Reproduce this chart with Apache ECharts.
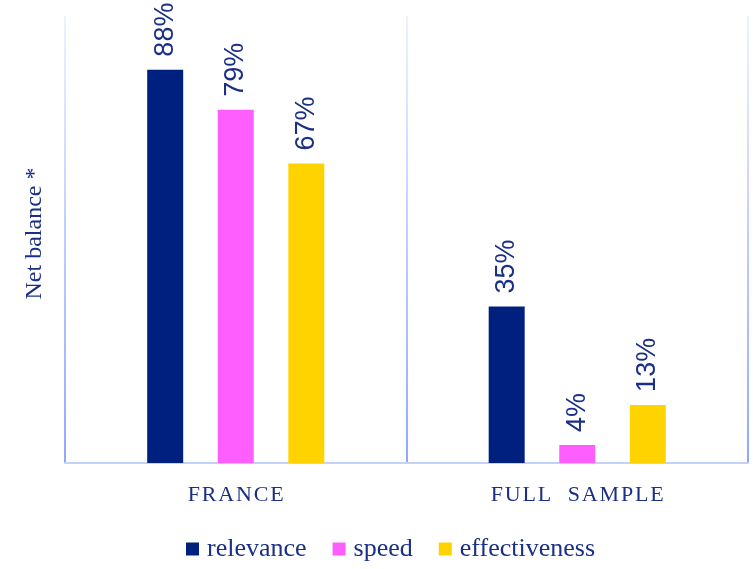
<!DOCTYPE html>
<html>
<head>
<meta charset="utf-8">
<script src="https://cdn.jsdelivr.net/npm/echarts@6/dist/echarts.min.js"></script>
<style>
  html, body { margin: 0; padding: 0; background: #fff; }
  #chart { width: 755px; height: 569px; }
</style>
</head>
<body>
<div id="chart"></div>
<script>
// data
const categories = ['FRANCE', 'FULL  SAMPLE'];
const seriesNames = ['relevance', 'speed', 'effectiveness'];
const relevance = [88, 35];
const speed = [79, 4];
const effectiveness = [67, 13];
const colors = ['#00207f', '#ff5eff', '#ffd300'];

const textColor = '#1a2f86';
const serif = '"Liberation Serif", "DejaVu Serif", serif';

// spread the letters a bit, like the original's tracked caps
const spaced = (s) => s.split('').join('\u200a');

const guideLine = new echarts.graphic.LinearGradient(0, 0, 0, 1, [
  { offset: 0, color: '#eef2ff' },
  { offset: 1, color: '#8ea8ff' }
]);

const makeSeries = (name, data, color) => ({
  name,
  type: 'bar',
  data,
  barWidth: 36,
  barGap: '96%',
  itemStyle: { color },
  label: {
    show: true,
    position: 'top',
    distance: 13,
    rotate: 90,
    align: 'left',
    verticalAlign: 'middle',
    formatter: '{c}%',
    color: textColor,
    fontSize: 27,
    fontFamily: '"Liberation Sans", Arial, sans-serif'
  }
});

const chart = echarts.init(document.getElementById('chart'));
chart.setOption({
  animation: false,
  textStyle: { fontFamily: serif },
  grid: { left: 65, right: 7, top: 16, bottom: 106, containLabel: false },
  legend: {
    data: seriesNames,
    bottom: 7,
    left: 186,
    padding: 0,
    itemWidth: 13,
    itemHeight: 13,
    itemGap: 26,
    icon: 'rect',
    textStyle: { color: textColor, fontSize: 26, fontFamily: serif, padding: [0, 0, 0, 3] }
  },
  xAxis: {
    type: 'category',
    data: categories,
    axisLine: { show: true, lineStyle: { color: '#c3d1ff', width: 2 } },
    axisTick: { show: false },
    splitLine: { show: true, lineStyle: { color: guideLine, width: 2 } },
    axisLabel: {
      margin: 21,
      color: textColor,
      fontSize: 22,
      fontFamily: serif,
      formatter: spaced
    }
  },
  yAxis: {
    type: 'value',
    min: 0,
    max: 100,
    name: 'Net balance *',
    nameLocation: 'middle',
    nameGap: 18,
    nameTextStyle: { color: textColor, fontSize: 24, fontFamily: serif, padding: [0, 0, 0, 12] },
    axisLine: { show: false },
    axisTick: { show: false },
    axisLabel: { show: false },
    splitLine: { show: false }
  },
  series: [
    makeSeries(seriesNames[0], relevance, colors[0]),
    makeSeries(seriesNames[1], speed, colors[1]),
    makeSeries(seriesNames[2], effectiveness, colors[2])
  ]
});
</script>
</body>
</html>
